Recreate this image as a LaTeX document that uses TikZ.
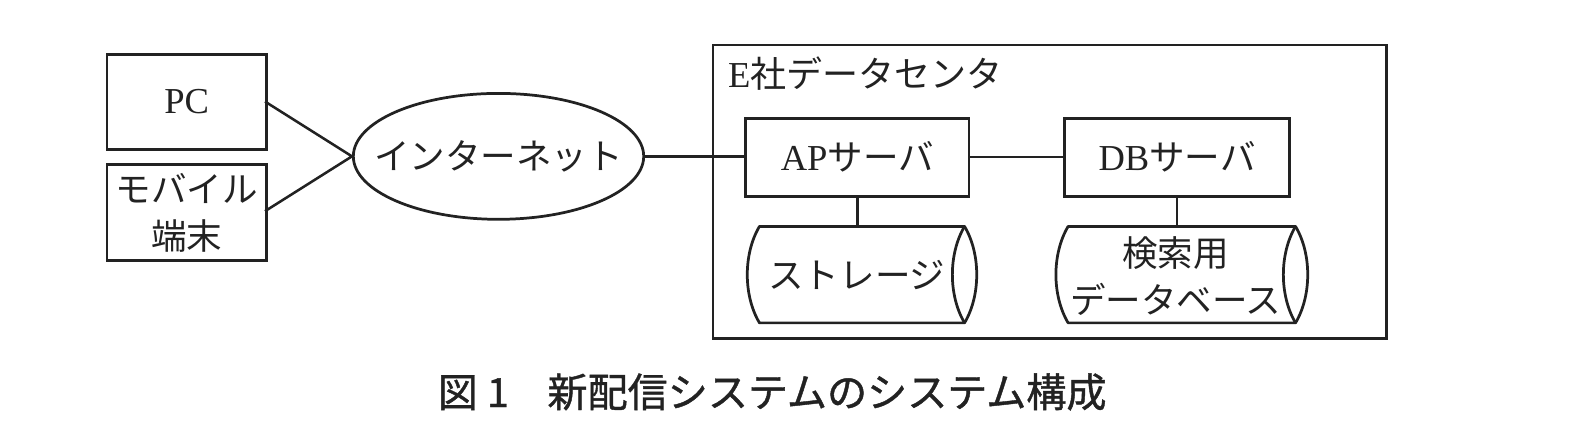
\documentclass[tikz,border=0pt]{standalone}
\usepackage{fontspec}
\usetikzlibrary{shapes.geometric}
\setmainfont{Liberation Serif}
\newfontfamily\cjk{Noto Sans CJK JP}
\newfontfamily\cjkb{Noto Sans CJK JP}[FakeBold=1]
\definecolor{ink}{HTML}{222222}
\tikzset{
  every node/.style={text=ink,font=\fontsize{36}{42}\selectfont},
  box/.style={draw=ink,line width=2.7pt,inner sep=0pt,align=center,anchor=north west},
  conn/.style={draw=ink,line width=2.5pt},
  lbl/.style={inner sep=0pt,align=center},
  jp/.style={font=\cjk\fontsize{35}{46}\selectfont},
  cyl/.style={draw=ink,line width=2.7pt,line join=round}
}
\begin{document}
\begin{tikzpicture}[x=1pt,y=-1pt]
\useasboundingbox (1,1) rectangle (1569,440.3);
\node[box,minimum width=663pt,minimum height=289pt] (dc) at (702,44) {};
\node[lbl,anchor=west] (dct) at (718,73) {E{\cjk\fontsize{35.5}{42}\selectfont 社データセンタ}};
\node[box,minimum width=157pt,minimum height=94pt] (pc) at (105,53) {PC};
\node[box,minimum width=157pt,minimum height=94pt,jp] (mb) at (105,162) {モバイル\\端末};
\node[ellipse,draw=ink,line width=2.7pt,minimum width=286pt,minimum height=124pt,inner sep=0pt] (net) at (492,155) {};
\node[lbl,jp] (nett) at (net.center) {インターネット};
\node[box,minimum width=220pt,minimum height=77pt] (ap) at (734,116) {AP{\cjk\fontsize{35}{42}\selectfont サーバ}};
\node[box,minimum width=222pt,minimum height=77pt] (db) at (1048,116) {DB{\cjk\fontsize{35}{42}\selectfont サーバ}};
% cylinders
\draw[cyl] (749,224) -- (951,224) .. controls (967,251) and (967,292) .. (951,319) -- (749,319)
  .. controls (733,292) and (733,251) .. (749,224) -- cycle;
\draw[cyl] (951,224) .. controls (935,251) and (935,292) .. (951,319);
\draw[cyl] (1053,224) -- (1277,224) .. controls (1293,251) and (1293,292) .. (1277,319) -- (1053,319)
  .. controls (1037,292) and (1037,251) .. (1053,224) -- cycle;
\draw[cyl] (1277,224) .. controls (1261,251) and (1261,292) .. (1277,319);
\coordinate (s1t) at (ap.south |- 0,224);
\coordinate (s2t) at (db.south |- 0,224);
\node[lbl,jp] (st) at (845,272) {ストレージ};
\node[lbl,jp] (sr) at (1159,273) {検索用\\データベース};
\coordinate (c1) at (262,101);
\coordinate (c2) at (262,209);
\draw[conn] (c1) -- (net.west) -- (c2);
\draw[conn] (net.east) -- (net.east -| ap.west);
\draw[conn] (ap.east) -- (db.west);
\draw[conn] (ap.south) -- (s1t);
\draw[conn] (db.south) -- (s2t);
\node[lbl,anchor=west,font=\cjkb\fontsize{39.5}{46}\selectfont] (cap) at (432,387) {\makebox[108pt][l]{図 1}新配信システムのシステム構成};
\end{tikzpicture}
\end{document}
